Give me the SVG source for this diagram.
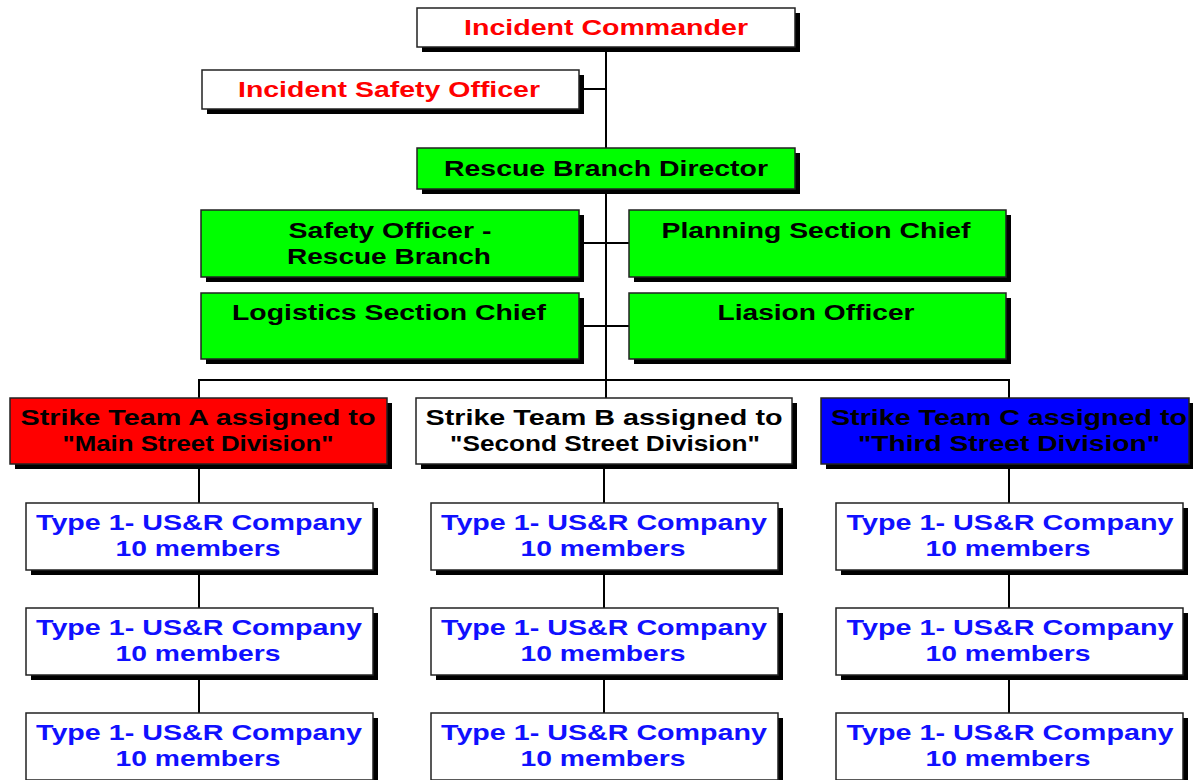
<svg xmlns="http://www.w3.org/2000/svg" width="1193" height="780" viewBox="0 0 1193 780">
  <style>
    .box { stroke: #222; stroke-width: 1.5; }
    .shadow { fill: #000; }
    .white { fill: #fff; }
    .green { fill: #00ff00; }
    .red { fill: #ff0000; }
    .blue { fill: #0000ff; }
    .conn { stroke: #000; stroke-width: 2; fill: none; }
    text { font-family: "Liberation Sans", Arial, sans-serif; font-weight: bold; font-size: 22px; text-anchor: middle; }
    .tred { fill: #ff0000; }
    .tblack { fill: #000; }
    .tblue { fill: #1010ff; }
  </style>

  <!-- connectors -->
  <g id="connectors">
    <path class="conn" d="M606 47 V148 M579 89 H606 M606 189 V380 M579 243 H629 M579 326 H629"/>
    <path class="conn" d="M199 398 V380 H1009 V398 M606 380 V398"/>
    <path class="conn" d="M199 464 V503 M199 570 V608 M199 675 V713"/>
    <path class="conn" d="M604 464 V503 M604 570 V608 M604 675 V713"/>
    <path class="conn" d="M1009 464 V503 M1009 570 V608 M1009 675 V713"/>
  </g>

  <!-- command staff -->
  <g id="incident-commander">
    <rect class="shadow" x="422" y="13" width="378" height="39"/>
    <rect class="box white" x="417" y="8" width="378" height="39"/>
    <text class="tred" x="606" y="35" textLength="284" lengthAdjust="spacingAndGlyphs">Incident Commander</text>
  </g>
  <g id="incident-safety-officer">
    <rect class="shadow" x="207" y="75" width="377" height="39"/>
    <rect class="box white" x="202" y="70" width="377" height="39"/>
    <text class="tred" x="389" y="97" textLength="302" lengthAdjust="spacingAndGlyphs">Incident Safety Officer</text>
  </g>
  <g id="rescue-branch-director">
    <rect class="shadow" x="422" y="153" width="378" height="41"/>
    <rect class="box green" x="417" y="148" width="378" height="41"/>
    <text class="tblack" x="606" y="176" textLength="324" lengthAdjust="spacingAndGlyphs">Rescue Branch Director</text>
  </g>

  <!-- branch staff -->
  <g id="safety-officer-rescue">
    <rect class="shadow" x="206" y="215" width="378" height="67"/>
    <rect class="box green" x="201" y="210" width="378" height="67"/>
    <text class="tblack" x="390" y="238" textLength="203" lengthAdjust="spacingAndGlyphs">Safety Officer -</text>
    <text class="tblack" x="389" y="264" textLength="204" lengthAdjust="spacingAndGlyphs">Rescue Branch</text>
  </g>
  <g id="planning-section-chief">
    <rect class="shadow" x="634" y="215" width="377" height="67"/>
    <rect class="box green" x="629" y="210" width="377" height="67"/>
    <text class="tblack" x="816" y="238" textLength="309" lengthAdjust="spacingAndGlyphs">Planning Section Chief</text>
  </g>
  <g id="logistics-section-chief">
    <rect class="shadow" x="206" y="298" width="378" height="66"/>
    <rect class="box green" x="201" y="293" width="378" height="66"/>
    <text class="tblack" x="389" y="320" textLength="314" lengthAdjust="spacingAndGlyphs">Logistics Section Chief</text>
  </g>
  <g id="liasion-officer">
    <rect class="shadow" x="634" y="298" width="377" height="66"/>
    <rect class="box green" x="629" y="293" width="377" height="66"/>
    <text class="tblack" x="816" y="320" textLength="197" lengthAdjust="spacingAndGlyphs">Liasion Officer</text>
  </g>

  <!-- strike teams -->
  <g id="strike-team-a">
    <rect class="shadow" x="15" y="403" width="377" height="66"/>
    <rect class="box red" x="10" y="398" width="377" height="66"/>
    <text class="tblack" x="198" y="425" textLength="355" lengthAdjust="spacingAndGlyphs">Strike Team A assigned to</text>
    <text class="tblack" x="198" y="451" textLength="271" lengthAdjust="spacingAndGlyphs">"Main Street Division"</text>
  </g>
  <g id="strike-team-b">
    <rect class="shadow" x="421" y="403" width="376" height="66"/>
    <rect class="box white" x="416" y="398" width="376" height="66"/>
    <text class="tblack" x="604" y="425" textLength="357" lengthAdjust="spacingAndGlyphs">Strike Team B assigned to</text>
    <text class="tblack" x="605" y="451" textLength="310" lengthAdjust="spacingAndGlyphs">"Second Street Division"</text>
  </g>
  <g id="strike-team-c">
    <rect class="shadow" x="826" y="403" width="368" height="66"/>
    <rect class="box blue" x="821" y="398" width="368" height="66"/>
    <text class="tblack" x="1009" y="425" textLength="356" lengthAdjust="spacingAndGlyphs">Strike Team C assigned to</text>
    <text class="tblack" x="1009" y="451" textLength="302" lengthAdjust="spacingAndGlyphs">"Third Street Division"</text>
  </g>

  <!-- companies, column A -->
  <g id="company-a1">
    <rect class="shadow" x="31" y="508" width="347" height="67"/>
    <rect class="box white" x="26" y="503" width="347" height="67"/>
    <text class="tblue" x="199" y="530" textLength="326" lengthAdjust="spacingAndGlyphs">Type 1- US&amp;R Company</text>
    <text class="tblue" x="198" y="556" textLength="165" lengthAdjust="spacingAndGlyphs">10 members</text>
  </g>
  <g id="company-a2">
    <rect class="shadow" x="31" y="613" width="347" height="67"/>
    <rect class="box white" x="26" y="608" width="347" height="67"/>
    <text class="tblue" x="199" y="635" textLength="326" lengthAdjust="spacingAndGlyphs">Type 1- US&amp;R Company</text>
    <text class="tblue" x="198" y="661" textLength="165" lengthAdjust="spacingAndGlyphs">10 members</text>
  </g>
  <g id="company-a3">
    <rect class="shadow" x="31" y="718" width="347" height="67"/>
    <rect class="box white" x="26" y="713" width="347" height="67"/>
    <text class="tblue" x="199" y="740" textLength="326" lengthAdjust="spacingAndGlyphs">Type 1- US&amp;R Company</text>
    <text class="tblue" x="198" y="766" textLength="165" lengthAdjust="spacingAndGlyphs">10 members</text>
  </g>

  <!-- companies, column B -->
  <g id="company-b1">
    <rect class="shadow" x="436" y="508" width="347" height="67"/>
    <rect class="box white" x="431" y="503" width="347" height="67"/>
    <text class="tblue" x="604" y="530" textLength="326" lengthAdjust="spacingAndGlyphs">Type 1- US&amp;R Company</text>
    <text class="tblue" x="603" y="556" textLength="165" lengthAdjust="spacingAndGlyphs">10 members</text>
  </g>
  <g id="company-b2">
    <rect class="shadow" x="436" y="613" width="347" height="67"/>
    <rect class="box white" x="431" y="608" width="347" height="67"/>
    <text class="tblue" x="604" y="635" textLength="326" lengthAdjust="spacingAndGlyphs">Type 1- US&amp;R Company</text>
    <text class="tblue" x="603" y="661" textLength="165" lengthAdjust="spacingAndGlyphs">10 members</text>
  </g>
  <g id="company-b3">
    <rect class="shadow" x="436" y="718" width="347" height="67"/>
    <rect class="box white" x="431" y="713" width="347" height="67"/>
    <text class="tblue" x="604" y="740" textLength="326" lengthAdjust="spacingAndGlyphs">Type 1- US&amp;R Company</text>
    <text class="tblue" x="603" y="766" textLength="165" lengthAdjust="spacingAndGlyphs">10 members</text>
  </g>

  <!-- companies, column C -->
  <g id="company-c1">
    <rect class="shadow" x="841" y="508" width="347" height="67"/>
    <rect class="box white" x="836" y="503" width="347" height="67"/>
    <text class="tblue" x="1010" y="530" textLength="327" lengthAdjust="spacingAndGlyphs">Type 1- US&amp;R Company</text>
    <text class="tblue" x="1008" y="556" textLength="165" lengthAdjust="spacingAndGlyphs">10 members</text>
  </g>
  <g id="company-c2">
    <rect class="shadow" x="841" y="613" width="347" height="67"/>
    <rect class="box white" x="836" y="608" width="347" height="67"/>
    <text class="tblue" x="1010" y="635" textLength="327" lengthAdjust="spacingAndGlyphs">Type 1- US&amp;R Company</text>
    <text class="tblue" x="1008" y="661" textLength="165" lengthAdjust="spacingAndGlyphs">10 members</text>
  </g>
  <g id="company-c3">
    <rect class="shadow" x="841" y="718" width="347" height="67"/>
    <rect class="box white" x="836" y="713" width="347" height="67"/>
    <text class="tblue" x="1010" y="740" textLength="327" lengthAdjust="spacingAndGlyphs">Type 1- US&amp;R Company</text>
    <text class="tblue" x="1008" y="766" textLength="165" lengthAdjust="spacingAndGlyphs">10 members</text>
  </g>
</svg>
